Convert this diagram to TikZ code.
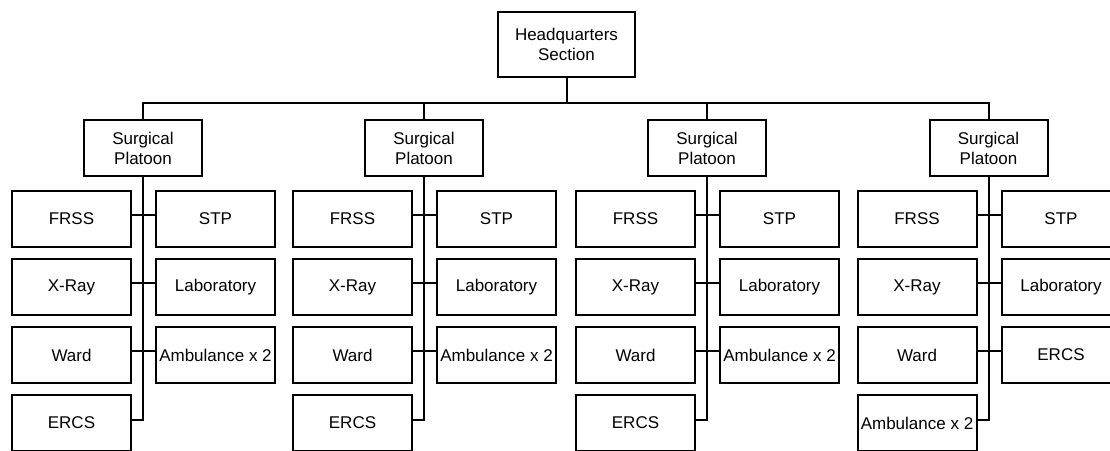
\documentclass[tikz,border=0pt]{standalone}
\usepackage{fontspec}
\setmainfont{Liberation Sans}

\tikzset{
	unit/.style={draw,line width=2pt,inner sep=1pt,align=center,
		minimum width=119pt,minimum height=56pt,font=\fontsize{17}{20}\selectfont},
}

\begin{document}
\begin{tikzpicture}[x=1pt,y=-1pt,line width=2pt,line cap=rect]
		\useasboundingbox (0,0) rectangle (1110,450);
		\clip (0,0) rectangle (1110,450);

		\node[unit,minimum width=137pt,minimum height=65pt] (hq) at (566.5,44.5) {Headquarters\\Section};
		\coordinate (bar) at (566.5,102.5);
		\draw (hq.south) -- (hq.south |- bar);

		\foreach \col / \x / \rthree / \lfour in
		{1/143/{Ambulance x 2}/ERCS, 2/424/{Ambulance x 2}/ERCS,
		3/707/{Ambulance x 2}/ERCS, 4/988.5/ERCS/{Ambulance x 2}}
		{
			\node[unit,minimum width=118pt] (sp\col) at (\x,148) {Surgical\\Platoon};
			\draw (sp\col.north) -- (sp\col.north |- bar);

			\foreach \row / \y / \ltext / \rtext in
			{1/219/FRSS/STP, 2/287/X-Ray/Laboratory, 3/355/Ward/\rthree}
			{
				\node[unit] (l\col\row) at (\x-71.5,\y) {\ltext};
				\node[unit] (r\col\row) at (\x+72.5,\y) {\rtext};
				\draw ([yshift=4pt]l\col\row.east) -- ([yshift=4pt]r\col\row.west);
			}

			\node[unit] (l\col4) at (\x-71.5,423) {\lfour};
			\draw (sp\col.south) |- ([yshift=3pt]l\col4.east); % stem
		}

		\draw (sp1.north |- bar) -- (sp4.north |- bar);
	\end{tikzpicture}
\end{document}
